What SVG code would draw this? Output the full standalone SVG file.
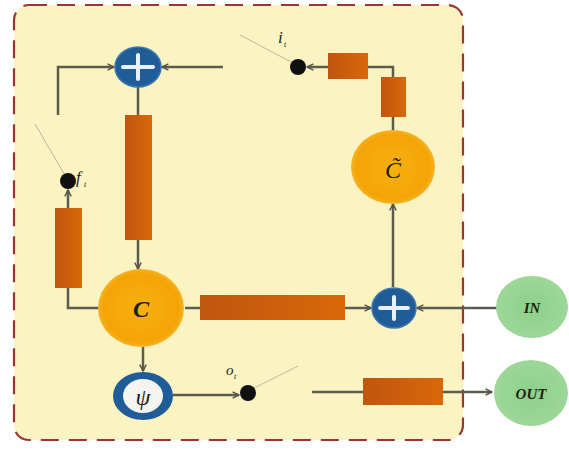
<svg xmlns="http://www.w3.org/2000/svg" width="569" height="450" viewBox="0 0 569 450">
  <defs>
    <linearGradient id="bar" x1="0" y1="0" x2="1" y2="0">
      <stop offset="0" stop-color="#c0560e"/>
      <stop offset="1" stop-color="#d8680a"/>
    </linearGradient>
    <radialGradient id="gold" cx="0.5" cy="0.5" r="0.55">
      <stop offset="0" stop-color="#f8b010"/>
      <stop offset="0.8" stop-color="#f4a406"/>
      <stop offset="1" stop-color="#f6c040"/>
    </radialGradient>
    <radialGradient id="green" cx="0.5" cy="0.5" r="0.55">
      <stop offset="0" stop-color="#8cd08a"/>
      <stop offset="1" stop-color="#9ed89a"/>
    </radialGradient>
    <marker id="arr" viewBox="0 0 10 10" refX="9" refY="5" markerWidth="8" markerHeight="8" markerUnits="userSpaceOnUse" orient="auto">
      <path d="M1,1 L9,5 L1,9" fill="none" stroke="#55554a" stroke-width="1.8"/>
    </marker>
    <style>
      .wire { fill: none; stroke: #5c5c4e; stroke-width: 2.5; }
      .thin { fill: none; stroke: #b8b8a0; stroke-width: 1; }
      .bar { fill: url(#bar); }
      .plus { fill: #1f5c98; stroke: #3c78b0; stroke-width: 1.5; }
      .cross { stroke: #e8f0f8; stroke-width: 4; stroke-linecap: round; }
      .dot { fill: #111111; }
      .lbl { font-family: "Liberation Serif", "DejaVu Serif", serif; font-style: italic; fill: #1e1e12; }
    </style>
  </defs>

  <rect x="0" y="0" width="569" height="450" fill="#ffffff"/>
  <!-- dashed cell boundary -->
  <rect x="14" y="5" width="449" height="435" rx="15" fill="#fcf3c2" stroke="#9c3434" stroke-width="2.2" stroke-dasharray="18,10"/>

  <!-- connectors -->
  <g id="connectors">
    <path class="wire" d="M58,115 V67 H114" marker-end="url(#arr)"/>
    <path class="wire" d="M223,67 H162" marker-end="url(#arr)"/>
    <path class="wire" d="M138,87 V116"/>
    <path class="wire" d="M138,240 V269" marker-end="url(#arr)"/>
    <path class="wire" d="M68,288 V308 H99"/>
    <path class="wire" d="M68,208 V190" marker-end="url(#arr)"/>
    <path class="wire" d="M328,67 H307" marker-end="url(#arr)"/>
    <path class="wire" d="M368,67 H393 V78"/>
    <path class="wire" d="M393,117 V131"/>
    <path class="wire" d="M393,287 V204" marker-end="url(#arr)"/>
    <path class="wire" d="M185,308 H201"/>
    <path class="wire" d="M345,308 H371" marker-end="url(#arr)"/>
    <path class="wire" d="M497,308 H417" marker-end="url(#arr)"/>
    <path class="wire" d="M143,347 V371" marker-end="url(#arr)"/>
    <path class="wire" d="M173,395 H239" marker-end="url(#arr)"/>
    <path class="wire" d="M312,392 H364"/>
    <path class="wire" d="M442,392 H492" marker-end="url(#arr)"/>
    <!-- gate switch strokes -->
    <path class="thin" d="M35,124 L66,177"/>
    <path class="thin" d="M240,35 L293,63"/>
    <path class="thin" d="M252,389 L298,366"/>
  </g>

  <!-- top sum -->
  <g id="sum-top">
    <ellipse cx="138" cy="67" rx="23" ry="20" class="plus"/>
    <path class="cross" d="M123,67 H153 M138,55 V79"/>
  </g>

  <!-- forget path bar -->
  <g id="bar-cell">
    <rect x="125" y="115" width="27" height="125" class="bar"/>
  </g>

  <g id="bar-forget">
    <rect x="55" y="208" width="27" height="80" class="bar"/>
  </g>

  <g id="gate-f">
    <circle cx="68" cy="181" r="8" class="dot"/>
    <text x="76" y="183" class="lbl" font-size="17">f</text>
    <text x="84" y="187" class="lbl" font-size="8">t</text>
  </g>

  <g id="gate-i">
    <circle cx="298" cy="67" r="8" class="dot"/>
    <text x="278" y="43" class="lbl" font-size="17">i</text>
    <text x="284" y="47" class="lbl" font-size="8">t</text>
  </g>

  <g id="bar-input-h">
    <rect x="328" y="53" width="40" height="26" class="bar"/>
  </g>

  <g id="bar-input-v">
    <rect x="381" y="77" width="25" height="40" class="bar"/>
  </g>

  <g id="c-tilde">
    <ellipse cx="393" cy="167" rx="42" ry="37" fill="url(#gold)"/>
    <text x="393" y="178" class="lbl" font-size="24" text-anchor="middle">C&#771;</text>
  </g>

  <g id="c-cell">
    <ellipse cx="141" cy="308" rx="43" ry="39" fill="url(#gold)"/>
    <text x="141" y="317" class="lbl" font-size="24" font-weight="bold" text-anchor="middle">C</text>
  </g>

  <g id="bar-mid">
    <rect x="200" y="295" width="145" height="25" class="bar"/>
  </g>

  <g id="sum-bottom">
    <ellipse cx="394" cy="308" rx="22" ry="20" class="plus"/>
    <path class="cross" d="M380,308 H408 M394,297 V319"/>
  </g>

  <g id="in">
    <ellipse cx="532" cy="307" rx="36" ry="31" fill="url(#green)"/>
    <text x="532" y="313" class="lbl" font-size="15" font-weight="bold" text-anchor="middle" fill="#2a3a20">IN</text>
  </g>

  <g id="psi">
    <ellipse cx="143" cy="396" rx="30" ry="24" fill="#1f5c98"/>
    <ellipse cx="143" cy="396" rx="20" ry="17" fill="#f4f4f0"/>
    <text x="143" y="405" class="lbl" font-size="24" text-anchor="middle">ψ</text>
  </g>

  <g id="gate-o">
    <circle cx="248" cy="393" r="8" class="dot"/>
    <text x="226" y="375" class="lbl" font-size="15">o</text>
    <text x="234" y="379" class="lbl" font-size="8">t</text>
  </g>

  <g id="bar-out">
    <rect x="363" y="378" width="80" height="27" class="bar"/>
  </g>

  <g id="out">
    <ellipse cx="531" cy="393" rx="37" ry="33" fill="url(#green)"/>
    <text x="531" y="399" class="lbl" font-size="15" font-weight="bold" text-anchor="middle" fill="#2a3a20">OUT</text>
  </g>
</svg>
